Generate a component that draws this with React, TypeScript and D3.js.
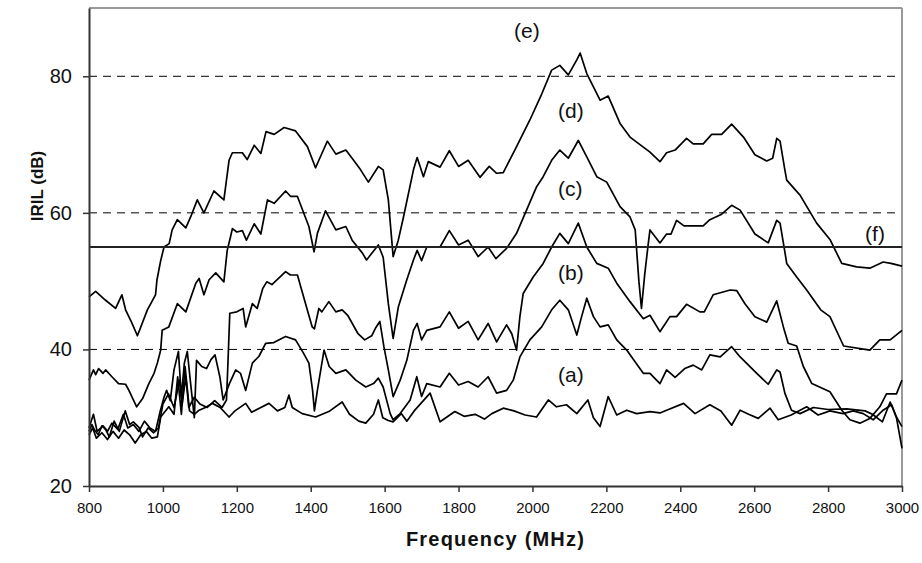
import React, { useRef, useEffect } from 'react';
import * as d3 from 'd3';

const W = 922;
const H = 563;
const FONT = '"Liberation Sans", Arial, Helvetica, sans-serif';

// [frequency MHz, IRIL dB]
const SERIES_A: [number, number][] = [
  [800, 27.5], [810, 28.5], [820, 27], [835, 27.8], [850, 26.8], [865, 28], [880, 27], [895, 28.2],
  [910, 27.5], [925, 26.3], [940, 27.5], [955, 28], [970, 27], [985, 27.2], [994, 30.1], [1016, 31.6],
  [1030, 30.5], [1040, 36], [1050, 30.5], [1060, 37.5], [1072, 31], [1085, 30.5], [1098, 31.1],
  [1115, 31.5], [1134, 32.1], [1155, 31.5], [1179, 30.1], [1195, 31], [1224, 32.1], [1240, 30.8],
  [1265, 31.5], [1287, 32.1], [1310, 31], [1330, 31.5], [1341, 33.3], [1350, 31.5], [1377, 30.6],
  [1413, 30.1], [1449, 30.9], [1485, 32.3], [1505, 30.5], [1530, 29.5], [1549, 29.2], [1570, 30.5],
  [1583, 32.6], [1595, 30], [1610, 29.6], [1623, 29.4], [1645, 30.6], [1660, 29.5], [1680, 31],
  [1723, 33.6], [1750, 29.4], [1790, 30.9], [1815, 30.2], [1845, 30.5], [1870, 29.8], [1890, 30.6],
  [1921, 31.4], [1950, 31], [1980, 30.4], [2011, 30.1], [2043, 32.6], [2065, 31.6], [2092, 31.9],
  [2120, 30.6], [2150, 32.6], [2165, 30], [2183, 28.7], [2205, 33.1], [2228, 30.4], [2255, 31.1],
  [2282, 30.6], [2318, 30.9], [2345, 30.7], [2363, 31.1], [2409, 32.1], [2440, 30.6], [2480, 31.9],
  [2510, 31], [2539, 28.9], [2562, 31.1], [2585, 30.5], [2611, 29.9], [2643, 31.4], [2665, 29.7],
  [2700, 30.4], [2742, 31.6], [2773, 30.4], [2805, 31], [2840, 30.6], [2868, 31], [2895, 30.6],
  [2922, 29.7], [2949, 31.1], [2972, 31.9], [2985, 30.1], [3000, 28.7],
];

const SERIES_B: [number, number][] = [
  [800, 28.5], [812, 30.5], [822, 28], [838, 28.8], [850, 28], [862, 29.2], [878, 28.3], [893, 30.5],
  [905, 28.5], [920, 29], [935, 28], [950, 29.5], [965, 28.5], [980, 28], [992, 30.8], [1003, 33],
  [1010, 34], [1020, 32.5], [1030, 37], [1042, 39.7], [1050, 33], [1058, 38], [1066, 39.7], [1075, 35],
  [1085, 30], [1091, 38.4], [1105, 37.5], [1118, 37.2], [1130, 38.5], [1141, 39.2], [1154, 36],
  [1163, 32.6], [1180, 35], [1197, 37], [1210, 36.5], [1224, 34], [1242, 38], [1260, 39], [1278, 40.9],
  [1300, 41], [1332, 41.9], [1359, 41.4], [1380, 39.5], [1395, 38], [1405, 34], [1410, 31], [1418, 34],
  [1436, 39.9], [1450, 37.5], [1468, 36.5], [1495, 37], [1522, 35.5], [1549, 34.5], [1570, 35],
  [1583, 35.8], [1596, 34.5], [1615, 30.6], [1623, 29.7], [1642, 30.6], [1669, 32.6], [1687, 36],
  [1700, 33.1], [1714, 35], [1750, 34.5], [1775, 36.5], [1800, 34.8], [1826, 35.3], [1853, 34.5],
  [1880, 36], [1903, 33.6], [1930, 34], [1948, 35.5], [1966, 38.9], [1993, 41.4], [2025, 43.3],
  [2052, 45.8], [2074, 47.2], [2097, 45.8], [2120, 42.1], [2133, 44.8], [2147, 47.5], [2165, 44.8],
  [2183, 43.3], [2205, 43.6], [2228, 41.4], [2255, 39.9], [2280, 38], [2300, 36.5], [2318, 36.5],
  [2345, 35], [2363, 37], [2386, 35.9], [2412, 37.2], [2435, 37.7], [2458, 37], [2480, 39.2],
  [2508, 38.9], [2539, 40.4], [2562, 38.9], [2607, 36.5], [2638, 34.9], [2661, 37], [2670, 36.7],
  [2683, 33.6], [2701, 31.1], [2724, 30.6], [2760, 31.5], [2800, 31.2], [2850, 31.3], [2900, 31],
  [2920, 30.5], [2947, 29.4], [2968, 32.3], [2985, 30], [3000, 25.5],
];

const SERIES_C: [number, number][] = [
  [800, 28], [808, 29], [815, 28.2], [825, 27.5], [835, 28.8], [845, 28.3], [855, 27.2], [868, 29.5],
  [882, 28], [898, 31], [910, 29], [920, 29.4], [935, 28.6], [945, 27.2], [960, 28.5], [975, 27.8],
  [988, 28.5], [1000, 32], [1015, 33.5], [1030, 31.5], [1045, 35.5], [1052, 32], [1062, 36], [1070, 31.5],
  [1085, 33], [1100, 32], [1120, 31.5], [1140, 32.5], [1160, 31.5], [1172, 32.6], [1176, 38],
  [1181, 45.3], [1200, 45.5], [1217, 46], [1224, 43.3], [1242, 46.7], [1255, 46], [1270, 48.9],
  [1281, 49.9], [1295, 49.5], [1332, 51.4], [1345, 50.9], [1364, 50.9], [1386, 46.7], [1404, 43.3],
  [1410, 43], [1422, 46], [1430, 45.5], [1449, 47], [1468, 45.5], [1485, 45.8], [1500, 45], [1528, 42.3],
  [1546, 41.4], [1565, 42], [1575, 43.1], [1587, 44.1], [1598, 40.4], [1610, 37], [1623, 33.1],
  [1642, 35.5], [1660, 38.4], [1678, 42.8], [1688, 43.8], [1700, 41.4], [1714, 42.8], [1750, 43.3],
  [1775, 45.5], [1800, 43.1], [1826, 44.1], [1853, 41.4], [1880, 43.8], [1903, 41.1], [1930, 43.6],
  [1944, 42.3], [1957, 39.9], [1966, 44.8], [1975, 48.2], [2002, 50.6], [2029, 52.6], [2052, 55],
  [2074, 57], [2097, 55.5], [2124, 58.5], [2147, 55], [2174, 52.6], [2205, 51.9], [2228, 49.7],
  [2264, 47], [2300, 44.5], [2318, 45], [2345, 42.6], [2372, 44.8], [2390, 44.8], [2417, 46.6],
  [2453, 45.5], [2465, 45.5], [2489, 48], [2535, 48.7], [2553, 48.6], [2575, 46.7], [2602, 44.8],
  [2634, 44], [2661, 47.1], [2679, 43.3], [2692, 40.9], [2715, 40.5], [2733, 37.5], [2756, 35],
  [2805, 33.8], [2837, 31.1], [2859, 29.7], [2886, 29.2], [2913, 29.9], [2940, 31.6], [2958, 33.5],
  [2985, 33.5], [3000, 35.5],
];

const SERIES_D: [number, number][] = [
  [800, 35.5], [812, 37], [818, 36.3], [826, 37.2], [838, 36.5], [845, 37], [862, 36], [880, 35],
  [899, 34.9], [908, 34], [929, 31.6], [945, 32.8], [962, 35], [976, 36.5], [985, 38], [994, 39.9],
  [998, 42.8], [1016, 43.3], [1039, 46.7], [1062, 45.5], [1089, 49.7], [1098, 50.4], [1111, 48],
  [1125, 50.2], [1143, 51.2], [1165, 49.9], [1174, 54.5], [1183, 56.5], [1188, 57.7], [1200, 57.2],
  [1215, 57.4], [1226, 56], [1247, 58.4], [1265, 56.9], [1283, 61.9], [1301, 61.4], [1332, 63.2],
  [1346, 62.4], [1364, 62.4], [1395, 58], [1409, 54.3], [1418, 57], [1440, 60.3], [1468, 57.5],
  [1495, 58], [1512, 56], [1540, 54.1], [1551, 53.1], [1583, 55.3], [1596, 53.5], [1610, 46.7],
  [1623, 41.6], [1637, 46.2], [1660, 50.2], [1678, 53.1], [1688, 54.5], [1700, 53], [1714, 55],
  [1750, 55], [1775, 57.4], [1800, 55.3], [1826, 56], [1853, 53.6], [1880, 55], [1901, 53.3],
  [1930, 54.8], [1957, 57], [1984, 60.4], [2011, 63.8], [2029, 65.3], [2052, 67.7], [2074, 69.2],
  [2097, 68], [2124, 70.6], [2147, 68.2], [2174, 65.3], [2201, 64.5], [2237, 60.9], [2264, 59.4],
  [2278, 57.5], [2288, 50], [2295, 46], [2304, 51.1], [2313, 55.3], [2318, 57.5], [2345, 55.6],
  [2363, 56.9], [2375, 56.9], [2390, 58.9], [2410, 58.1], [2435, 58.1], [2462, 58.1], [2480, 59],
  [2512, 59.8], [2539, 61.1], [2562, 60.4], [2602, 56.9], [2638, 55.6], [2661, 58.9], [2670, 58.5],
  [2683, 54.3], [2688, 52.6], [2715, 50.6], [2742, 48.7], [2780, 45.8], [2805, 44.8], [2842, 40.5],
  [2913, 39.9], [2940, 41.4], [2968, 41.4], [3000, 42.8],
];

const SERIES_E: [number, number][] = [
  [800, 47.7], [818, 48.5], [845, 47.2], [872, 46], [889, 48], [899, 45.8], [915, 44], [931, 42],
  [958, 45.8], [980, 48], [984, 50.2], [994, 53], [1003, 55], [1017, 55.5], [1025, 57.5], [1039, 59],
  [1062, 57.8], [1075, 59.4], [1093, 61.9], [1111, 60], [1138, 63.2], [1165, 61.9], [1179, 67.7],
  [1188, 68.8], [1215, 68.8], [1228, 67.8], [1247, 69.9], [1265, 68.7], [1279, 71.9], [1301, 71.5],
  [1328, 72.5], [1359, 72], [1391, 69.7], [1413, 66.6], [1422, 67.7], [1445, 70.5], [1468, 68.6],
  [1495, 69.2], [1512, 68], [1535, 66.3], [1556, 64.5], [1583, 66.8], [1596, 66.3], [1610, 61.9],
  [1623, 53.6], [1637, 56], [1651, 59.4], [1678, 66.3], [1688, 68.1], [1705, 65.3], [1718, 67.5],
  [1750, 66.7], [1775, 69.1], [1800, 66.8], [1826, 67.7], [1858, 65.2], [1883, 66.8], [1903, 65.8],
  [1921, 65.9], [1957, 69.7], [1993, 73.6], [2025, 77.4], [2052, 80.9], [2074, 81.6], [2097, 80.2],
  [2120, 82.4], [2129, 83.4], [2147, 80.4], [2183, 76.5], [2205, 77.1], [2237, 73.1], [2264, 71.1],
  [2318, 68.9], [2345, 67.5], [2363, 68.8], [2386, 69.2], [2417, 70.9], [2435, 70.1], [2462, 70.1],
  [2485, 71.5], [2512, 71.5], [2539, 73], [2571, 71.1], [2602, 68.5], [2634, 67.6], [2650, 68],
  [2661, 70.9], [2670, 70.5], [2683, 66.3], [2688, 64.8], [2724, 62.6], [2769, 58.5], [2805, 56.1],
  [2837, 52.6], [2877, 52.1], [2913, 51.9], [2949, 52.8], [2970, 52.6], [3000, 52.2],
];

const SERIES = [SERIES_A, SERIES_B, SERIES_C, SERIES_D, SERIES_E];

const LIMIT_DB = 55; // line (f)

// curve labels: text, frequency, dB (baseline, centred)
const LABELS: [string, number, number][] = [
  ['(a)', 2104, 35.3],
  ['(b)', 2104, 50.2],
  ['(c)', 2102, 62.5],
  ['(d)', 2104, 73.9],
  ['(e)', 1985, 85.6],
  ['(f)', 2927, 55.9],
];

const X_TICKS = [800, 1000, 1200, 1400, 1600, 1800, 2000, 2200, 2400, 2600, 2800, 3000];
const Y_TICKS = [20, 40, 60, 80];
const GRID_DB = [40, 60, 80];

export default function App() {
  const svgRef = useRef<SVGSVGElement>(null);

  useEffect(() => {
    if (!svgRef.current) return;
    const svg = d3.select(svgRef.current);
    svg.selectAll('*').remove();

    const x = d3.scaleLinear().domain([800, 3000]).range([89, 902]);
    const y = d3.scaleLinear().domain([20, 90]).range([486, 8]);
    const [x0, x1] = x.range();
    const [y0, y1] = y.range();

    // dashed gridlines
    svg.append('g')
      .selectAll('line')
      .data(GRID_DB)
      .enter()
      .append('line')
      .attr('x1', x0).attr('x2', x1)
      .attr('y1', d => y(d)).attr('y2', d => y(d))
      .attr('stroke', '#000')
      .attr('stroke-width', 1)
      .attr('stroke-dasharray', '8,6');

    // frame: light top/right, dark axes
    svg.append('line').attr('x1', x0).attr('x2', x1).attr('y1', y1).attr('y2', y1)
      .attr('stroke', '#9a9a9a').attr('stroke-width', 2);
    svg.append('line').attr('x1', x1).attr('x2', x1).attr('y1', y1).attr('y2', y0)
      .attr('stroke', '#9a9a9a').attr('stroke-width', 2);

    // curves
    const line = d3.line<[number, number]>()
      .x(d => x(d[0]))
      .y(d => y(d[1]));

    svg.append('g')
      .selectAll('path')
      .data(SERIES)
      .enter()
      .append('path')
      .attr('d', d => line(d))
      .attr('fill', 'none')
      .attr('stroke', '#000')
      .attr('stroke-width', 1.7)
      .attr('stroke-linejoin', 'round');

    // limit line (f)
    svg.append('line')
      .attr('x1', x0).attr('x2', x1)
      .attr('y1', y(LIMIT_DB)).attr('y2', y(LIMIT_DB))
      .attr('stroke', '#222')
      .attr('stroke-width', 2);

    // axes
    const fmt = d3.format('d');
    const yAxis = svg.append('g')
      .attr('transform', `translate(${x0},0)`)
      .call(d3.axisLeft(y).tickValues(Y_TICKS).tickFormat(fmt).tickSize(6).tickPadding(11).tickSizeOuter(0));
    const xAxis = svg.append('g')
      .attr('transform', `translate(0,${y0})`)
      .call(d3.axisBottom(x).tickValues(X_TICKS).tickFormat(fmt).tickSize(6).tickPadding(10).tickSizeOuter(0));

    [yAxis, xAxis].forEach(ax => {
      ax.select('.domain').attr('stroke', '#333').attr('stroke-width', 2);
      ax.selectAll('.tick line').attr('stroke', '#333').attr('stroke-width', 1.5);
      ax.selectAll('text').attr('fill', '#111').style('font-family', FONT);
    });
    yAxis.selectAll('text').style('font-size', '20px');
    xAxis.selectAll('text').style('font-size', '15px');

    // curve labels
    svg.append('g')
      .selectAll('text')
      .data(LABELS)
      .enter()
      .append('text')
      .attr('x', d => x(d[1]))
      .attr('y', d => y(d[2]))
      .attr('text-anchor', 'middle')
      .style('font-family', FONT)
      .style('font-size', '21px')
      .attr('fill', '#111')
      .text(d => d[0]);

    // axis titles
    svg.append('text')
      .attr('x', (x0 + x1) / 2)
      .attr('y', 546)
      .attr('text-anchor', 'middle')
      .style('font-family', FONT)
      .style('font-size', '20px')
      .style('font-weight', 'bold')
      .style('letter-spacing', '1.2px')
      .attr('fill', '#111')
      .text('Frequency (MHz)');

    svg.append('text')
      .attr('transform', 'translate(43,186) rotate(-90)')
      .attr('text-anchor', 'middle')
      .style('font-family', FONT)
      .style('font-size', '17px')
      .style('font-weight', 'bold')
      .attr('fill', '#111')
      .text('IRIL (dB)');
  }, []);

  return (
    <svg
      ref={svgRef}
      width={W}
      height={H}
      style={{ position: 'absolute', left: 0, top: 0, background: '#fff' }}
    />
  );
}
